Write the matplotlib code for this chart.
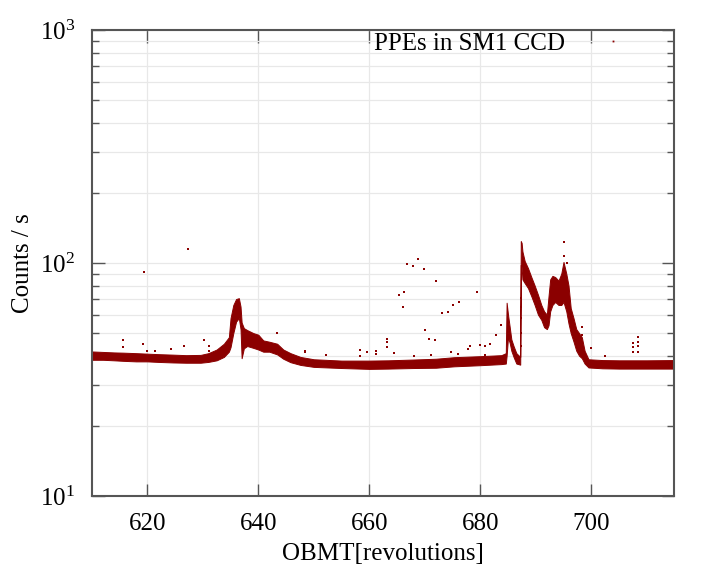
import numpy as np
import matplotlib
matplotlib.use('Agg')
import matplotlib.pyplot as plt
from matplotlib.ticker import LogLocator, NullLocator, FixedLocator
from matplotlib.lines import Line2D

plt.rcParams['font.family'] = ['Liberation Serif', 'DejaVu Serif']
plt.rcParams['mathtext.fontset'] = 'stix'
plt.rcParams['font.size'] = 18

# dense band of counts: revolution, lower edge, upper edge
band_rev = [610.0, 612.0, 614.0, 615.7, 618.0, 620.0, 622.0, 624.7, 627.0, 629.6,
            631.0, 632.5, 633.8, 634.7, 635.0, 635.5, 636.0, 636.5, 636.8, 637.0,
            637.4, 638.0, 639.1, 640.0, 640.9, 642.0, 643.4, 644.5, 645.8, 647.6,
            650.0, 655.0, 660.0, 663.4, 668.0, 672.0, 675.3, 680.0, 683.8, 684.6,
            684.75, 685.0, 685.3, 685.6, 686.0, 686.5, 687.2, 687.3, 687.45, 687.6,
            688.0, 688.6, 689.2, 689.8, 690.4, 691.0, 691.5, 692.0, 692.3, 692.6,
            693.0, 693.5, 694.1, 694.6, 695.0, 695.5, 695.9, 696.3, 696.8, 697.3,
            697.8, 698.3, 698.8, 699.5, 702.0, 705.0, 710.0, 715.0]
band_lo = [38.4, 38.4, 38.2, 38.0, 37.8, 37.8, 37.6, 37.4, 37.3, 37.3,
           37.6, 38.2, 39.5, 41.6, 43.5, 50.0, 56.0, 58.0, 52.0, 39.0,
           43.0, 44.0, 43.2, 42.5, 41.6, 41.6, 40.5, 38.8, 37.5, 36.5,
           35.8, 35.4, 35.1, 35.2, 35.4, 35.5, 36.0, 36.4, 36.8, 37.0,
           40.0, 48.0, 45.4, 42.0, 39.5, 37.0, 36.6, 98.0, 96.0, 85.0,
           82.0, 78.0, 72.0, 66.0, 60.0, 57.0, 53.0, 52.0, 54.0, 62.0,
           66.0, 68.0, 66.0, 66.0, 68.0, 62.0, 55.0, 50.0, 46.0, 42.0,
           40.0, 39.0, 37.0, 35.6, 35.3, 35.2, 35.2, 35.2]
band_hi = [41.7, 41.5, 41.3, 41.2, 41.0, 40.8, 40.6, 40.4, 40.2, 40.3,
           41.0, 42.5, 45.0, 48.0, 58.0, 66.0, 70.0, 70.6, 65.0, 55.5,
           52.5, 51.5, 50.0, 49.2, 46.5, 45.9, 45.0, 42.5, 41.0, 39.5,
           38.6, 38.1, 38.1, 38.2, 38.5, 38.8, 39.4, 39.8, 40.2, 41.0,
           67.5, 60.0, 53.2, 47.0, 44.0, 41.0, 39.5, 124.0, 122.0, 112.0,
           102.0, 95.0, 87.0, 80.0, 73.0, 66.0, 62.0, 60.0, 72.0, 85.0,
           88.0, 87.0, 84.0, 90.0, 101.0, 90.0, 80.0, 64.0, 58.0, 52.0,
           50.0, 48.0, 42.0, 38.6, 38.3, 38.2, 38.2, 38.3]

# isolated points
out_rev = [615.7, 615.7, 619.3, 619.4, 620.0, 621.3, 624.3, 626.6, 627.3, 630.3,
           631.2, 631.2, 643.4, 648.4, 648.4, 652.2, 658.4, 658.4, 659.6, 661.2,
           661.2, 663.2, 663.2, 663.2, 664.5, 665.3, 666.0, 666.3, 666.8, 667.8,
           668.1, 668.7, 669.8, 670.0, 670.7, 671.2, 671.8, 672.1, 673.1, 674.1,
           674.8, 675.1, 675.9, 676.2, 677.8, 678.2, 679.4, 679.9, 680.9, 680.9,
           681.8, 682.8, 683.8, 687.3, 687.3, 687.3, 687.3, 687.3, 695.0, 695.1,
           695.6, 698.4, 698.4, 699.9, 702.5, 707.6, 707.6, 707.6, 708.4, 708.4,
           708.4, 708.4]
out_cnt = [46.5, 43.4, 45.0, 91.0, 41.7, 41.7, 42.8, 43.9, 115.0, 46.5,
           44.0, 42.0, 50.0, 42.0, 41.3, 40.4, 42.4, 40.0, 41.4, 41.8,
           40.5, 47.1, 45.7, 43.4, 41.1, 72.5, 64.8, 75.4, 99.0, 97.5,
           39.8, 103.6, 94.6, 51.5, 47.0, 40.1, 46.5, 84.0, 61.0, 61.3,
           41.4, 66.1, 40.7, 68.3, 42.6, 44.2, 75.4, 44.5, 44.2, 40.4,
           44.8, 49.2, 54.0, 44.0, 50.0, 58.0, 65.0, 71.0, 123.6, 107.0,
           100.0, 53.0, 49.0, 43.1, 39.8, 45.4, 43.5, 41.5, 48.1, 46.0,
           43.8, 41.5]

x_ticks = [620, 640, 660, 680, 700]

DKRED = '#8b0000'
AXCOL = '#555555'
GRID = '#e8e8e8'

fig = plt.figure(figsize=(7.2, 5.76), dpi=100)
ax = fig.add_axes([0.1275, 0.139, 0.8093, 0.809])

ax.fill_between(band_rev, band_lo, band_hi, color=DKRED, lw=0.7, edgecolor=DKRED)
ax.plot(out_rev, out_cnt, ls='none', marker='s', ms=1.7, mew=0, color=DKRED)

ax.set_yscale('log')
ax.set_xlim(610, 715)
ax.set_ylim(10, 1000)
ax.xaxis.set_major_locator(FixedLocator(x_ticks))
ax.xaxis.set_minor_locator(NullLocator())
ax.yaxis.set_major_locator(LogLocator(base=10, numticks=5))
ax.yaxis.set_minor_locator(LogLocator(base=10, subs=np.arange(2, 10), numticks=20))

ax.set_axisbelow(True)
ax.grid(which='major', axis='x', color=GRID, lw=0.9)
ax.grid(which='both', axis='y', color=GRID, lw=0.9)

for s in ax.spines.values():
    s.set_color(AXCOL)
    s.set_linewidth(1.5)
ax.tick_params(which='both', direction='in', top=True, right=True, color=AXCOL, width=1.0)
ax.tick_params(which='major', length=9)
ax.tick_params(which='minor', length=5)
ax.tick_params(axis='x', which='major', pad=12)
ax.tick_params(axis='y', which='major', pad=12)

ax.set_xlabel('OBMT[revolutions]', labelpad=6)
ax.set_ylabel('Counts / s', labelpad=4)

h = Line2D([], [], ls='none', marker='s', ms=1.3, mew=0, color=DKRED)
ax.legend([h], ['PPEs in SM1 CCD'], markerfirst=False, frameon=False,
          loc='center right', bbox_to_anchor=(0.9545, 0.970), borderaxespad=0,
          handlelength=2.0, handletextpad=0.9, fontsize=18)

fig.savefig('out.png', dpi=100)
